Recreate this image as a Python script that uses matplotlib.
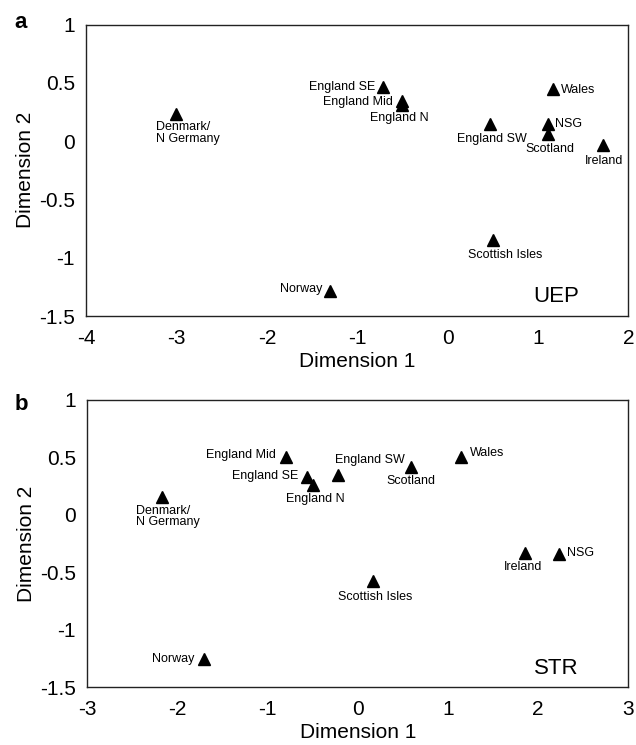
import matplotlib

matplotlib.use("Agg")
import matplotlib.pyplot as plt

plt.rcParams["font.family"] = ["Liberation Sans", "DejaVu Sans"]

# two-dimensional scaling, panel a (UEP)
names = [
    "Denmark/\nN Germany", "England SE", "England Mid", "England N",
    "England SW", "Wales", "NSG", "Scotland", "Ireland",
    "Scottish Isles", "Norway",
]
uep_x = [-3.0, -0.72, -0.51, -0.50, 0.47, 1.16, 1.115, 1.115, 1.72, 0.505, -1.30]
uep_y = [0.23, 0.465, 0.34, 0.31, 0.147, 0.447, 0.147, 0.058, -0.033, -0.848, -1.286]

# panel b (STR)
str_x = [-2.17, -0.56, -0.795, -0.50, -0.218, 1.143, 2.23, 0.589, 1.858, 0.167, -1.70]
str_y = [0.158, 0.333, 0.507, 0.257, 0.347, 0.50, -0.34, 0.414, -0.334, -0.572, -1.25]

uep_xticks = [-4, -3, -2, -1, 0, 1, 2]
str_xticks = [-3, -2, -1, 0, 1, 2, 3]
yticks = [-1.5, -1, -0.5, 0, 0.5, 1]

# label placement: (dx px, dy px, ha, va)
uep_place = [
    (-20, -7, "left", "top"), (-7, 0, "right", "center"), (-9, -1, "right", "center"),
    (-3, -13, "center", "center"), (2, -15, "center", "center"), (8, -1, "left", "center"),
    (7, 0, "left", "center"), (1, -15, "center", "center"), (1, -16, "center", "center"),
    (12, -15, "center", "center"), (-8, 2, "right", "center"),
]
str_place = [
    (-26, -8, "left", "top"), (-9, 1, "right", "center"), (-10, 2, "right", "center"),
    (3, -14, "center", "center"), (-3, 15, "left", "center"), (9, 4, "left", "center"),
    (8, 1, "left", "center"), (0, -14, "center", "center"), (-2, -14, "center", "center"),
    (2, -16, "center", "center"), (-10, 0, "right", "center"),
]


def panel(ax, xs, ys, place, xlim, xticks, tag):
    ax.plot(xs, ys, linestyle="none", marker="^", ms=9, color="black")
    for name, x, y, (dx, dy, ha, va) in zip(names, xs, ys, place):
        ax.annotate(name, (x, y), xytext=(dx, dy), textcoords="offset pixels",
                    ha=ha, va=va, fontsize=9, linespacing=0.95)
    ax.text(0.866, 0.066, tag, transform=ax.transAxes, ha="center", va="center",
            fontsize=16)
    ax.set_xlim(*xlim)
    ax.set_ylim(-1.5, 1)
    ax.set_xticks(xticks)
    ax.set_xticklabels([str(t) for t in xticks])
    ax.set_yticks(yticks)
    ax.set_yticklabels([f"{t:g}" for t in yticks])
    ax.tick_params(length=0, labelsize=15)
    ax.tick_params(axis="y", pad=8)
    ax.tick_params(axis="x", pad=9)
    for s in ax.spines.values():
        s.set_linewidth(1.0)
        s.set_color("#222222")
    ax.set_xlabel("Dimension 1", fontsize=15, labelpad=3)
    ax.set_ylabel("Dimension 2", fontsize=15, labelpad=3)


fig = plt.figure(figsize=(6.36, 7.45), dpi=100)
ax1 = fig.add_axes([0.1352, 0.5758, 0.853, 0.3913])
ax2 = fig.add_axes([0.1368, 0.0772, 0.8514, 0.3859])

panel(ax1, uep_x, uep_y, uep_place, (-4, 2), uep_xticks, "UEP")
panel(ax2, str_x, str_y, str_place, (-3, 3), str_xticks, "STR")

fig.text(21 / 636, 1 - 23 / 745, "a", fontsize=16, fontweight="bold", ha="center", va="center")
fig.text(21 / 636, 1 - 405 / 745, "b", fontsize=16, fontweight="bold", ha="center", va="center")

fig.savefig("out.png", dpi=100)
